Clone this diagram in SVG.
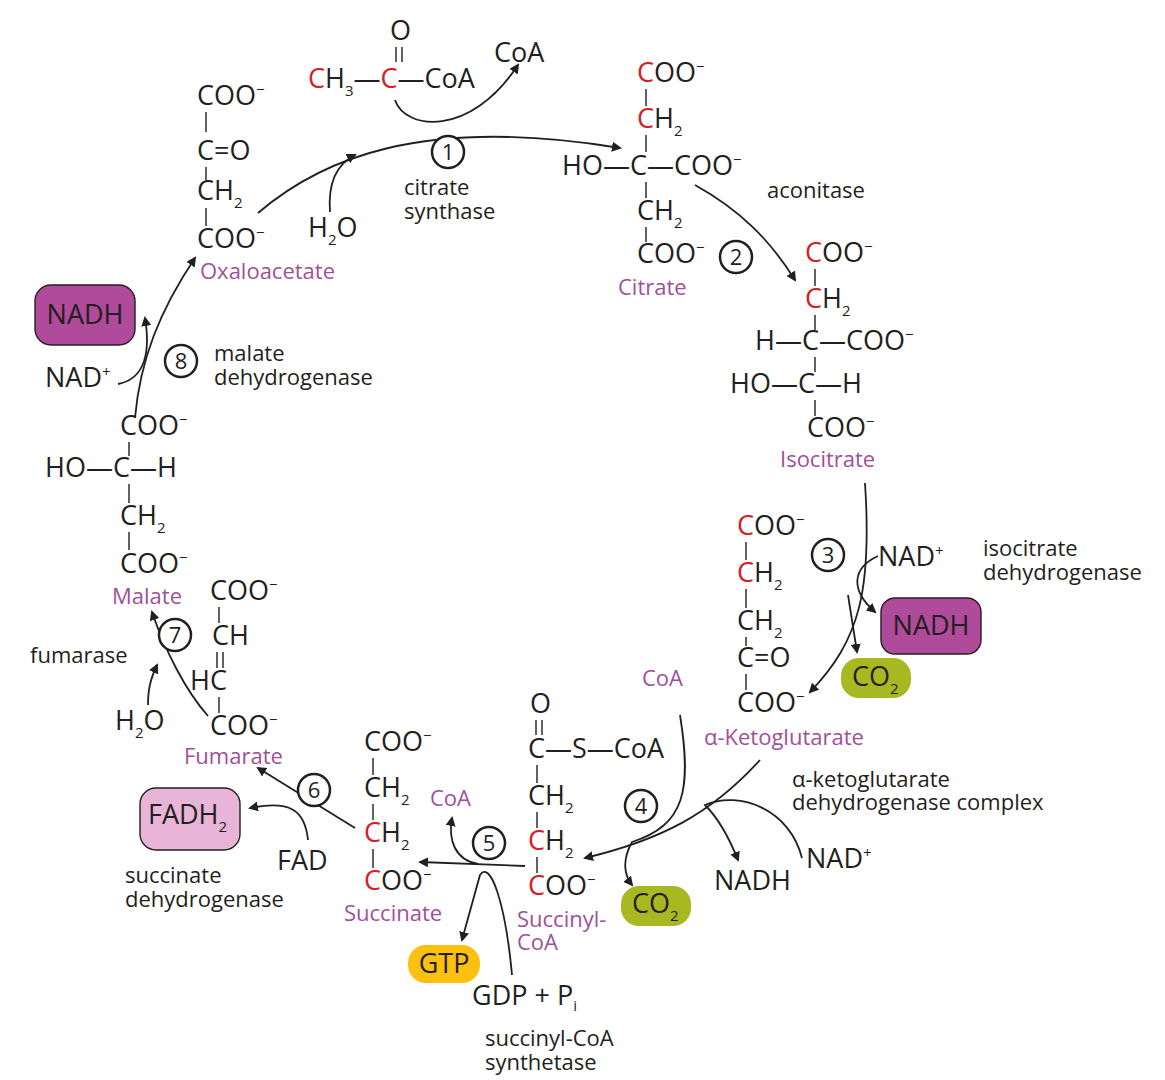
<svg xmlns="http://www.w3.org/2000/svg" width="1165" height="1080" viewBox="0 0 1165 1080">
<style>
text{font-family:"Open Sans","DejaVu Sans",sans-serif;fill:#231f20}
.m{font-size:27px}
.l{font-size:22px}
.p{font-size:22px;fill:#a0509a}
.r{fill:#d42027}
.s{font-size:15px}
.b{stroke:#231f20;stroke-width:1.4;fill:none}
.a{stroke:#231f20;stroke-width:1.8;fill:none;marker-end:url(#ah)}
.c{fill:#fff;stroke:#231f20;stroke-width:2.5}
</style>
<defs><marker id="ah" markerWidth="10" markerHeight="10" refX="8" refY="5" orient="auto" markerUnits="userSpaceOnUse" viewBox="0 0 10 10"><path d="M0,0L10,5L0,10z" fill="#231f20"/></marker></defs>
<g id="connectors">
<path class="a" d="M258,213 C320,160 420,115 620,148"/>
<path class="a" d="M395,100 C405,130 470,138 518,65"/>
<path class="a" d="M330,212 C328,185 335,165 355,155"/>
<path class="a" d="M695,185 C740,210 770,240 795,280"/>
<path class="a" d="M865,483 C872,590 860,640 810,692"/>
<path class="a" d="M878,556 C852,568 850,590 875,612"/>
<path class="a" d="M848,595 L857,652"/>
<path class="a" d="M760,760 C710,815 660,840 585,858"/>
<path class="a" d="M680,715 C692,790 685,825 632,842 C622,860 624,875 632,885"/>
<path class="a" d="M802,858 C790,810 740,790 705,805 C720,820 730,840 738,860"/>
<path class="a" d="M525,866 L420,862"/>
<path class="a" d="M478,864 C455,860 448,840 452,818"/>
<path class="a" d="M512,975 C505,900 490,860 480,875 L462,940"/>
<path class="a" d="M355,828 L258,768"/>
<path class="a" d="M308,840 C305,810 290,800 250,808"/>
<path class="a" d="M208,716 C185,690 165,650 152,612"/>
<path class="a" d="M148,705 C148,690 150,680 157,665"/>
<path class="a" d="M135,418 C140,360 160,310 195,258"/>
<path class="a" d="M118,384 C140,380 152,360 145,318"/>
</g>
<g id="oxaloacetate">
<text class="m" x="197" y="105">COO<tspan class="s" dy="-10">−</tspan></text>
<text class="m" x="197" y="160">C=O</text>
<text class="m" x="197" y="200">CH<tspan class="s" dy="8">2</tspan></text>
<text class="m" x="197" y="248">COO<tspan class="s" dy="-10">−</tspan></text>
<path class="b" d="M206,112V132M206,167V180M206,208V226"/>
<text class="p" x="200" y="279">Oxaloacetate</text>
</g>
<g id="acetylcoa">
<text class="m" x="390" y="40">O</text>
<path class="b" d="M396,47V62M402,47V62"/>
<text class="m" x="308" y="88"><tspan class="r">C</tspan>H<tspan class="s" dy="8">3</tspan><tspan dy="-8">—</tspan><tspan class="r">C</tspan>—CoA</text>
<text class="m" x="494" y="62">CoA</text>
<text class="m" x="308" y="237">H<tspan class="s" dy="8">2</tspan><tspan dy="-8">O</tspan></text>
</g>
<g id="step1"><circle class="c" cx="448" cy="152" r="16"/><text class="l" x="448" y="160" text-anchor="middle">1</text>
<text class="l" x="404" y="195">citrate</text><text class="l" x="404" y="219">synthase</text></g>
<g id="citrate">
<text class="m" x="637" y="82"><tspan class="r">C</tspan>OO<tspan class="s" dy="-10">−</tspan></text>
<text class="m" x="637" y="128"><tspan class="r">C</tspan>H<tspan class="s" dy="8">2</tspan></text>
<text class="m" x="562" y="175">HO—C—COO<tspan class="s" dy="-10">−</tspan></text>
<text class="m" x="637" y="220">CH<tspan class="s" dy="8">2</tspan></text>
<text class="m" x="637" y="263">COO<tspan class="s" dy="-10">−</tspan></text>
<path class="b" d="M646,89V106M646,135V152M646,182V198M646,227V242"/>
<text class="p" x="618" y="295">Citrate</text>
</g>
<g id="step2"><circle class="c" cx="736" cy="257" r="16"/><text class="l" x="736" y="265" text-anchor="middle">2</text>
<text class="l" x="767" y="198">aconitase</text></g>
<g id="isocitrate">
<text class="m" x="805" y="262"><tspan class="r">C</tspan>OO<tspan class="s" dy="-10">−</tspan></text>
<text class="m" x="805" y="308"><tspan class="r">C</tspan>H<tspan class="s" dy="8">2</tspan></text>
<text class="m" x="755" y="350">H—C—COO<tspan class="s" dy="-10">−</tspan></text>
<text class="m" x="730" y="393">HO—C—H</text>
<text class="m" x="807" y="437">COO<tspan class="s" dy="-10">−</tspan></text>
<path class="b" d="M815,269V286M815,315V330M815,357V372M815,400V416"/>
<text class="p" x="780" y="467">Isocitrate</text>
</g>
<g id="step3"><circle class="c" cx="828" cy="555" r="16"/><text class="l" x="828" y="563" text-anchor="middle">3</text>
<text class="m" x="878" y="566">NAD<tspan class="s" dy="-10">+</tspan></text>
<text class="l" x="983" y="556">isocitrate</text><text class="l" x="983" y="580">dehydrogenase</text>
<rect x="881" y="598" width="100" height="56" rx="14" fill="#b04a9a" stroke="#231f20" stroke-width="1.4"/>
<text class="m" x="931" y="635" text-anchor="middle">NADH</text>
<rect x="841" y="658" width="70" height="40" rx="18" fill="#a8b820"/>
<text class="m" x="852" y="686">CO<tspan class="s" dy="8">2</tspan></text></g>
<g id="ketoglutarate">
<text class="m" x="737" y="535"><tspan class="r">C</tspan>OO<tspan class="s" dy="-10">−</tspan></text>
<text class="m" x="737" y="582"><tspan class="r">C</tspan>H<tspan class="s" dy="8">2</tspan></text>
<text class="m" x="737" y="630">CH<tspan class="s" dy="8">2</tspan></text>
<text class="m" x="737" y="667">C=O</text>
<text class="m" x="737" y="712">COO<tspan class="s" dy="-10">−</tspan></text>
<path class="b" d="M746,542V560M746,589V608M746,637V646M746,674V690"/>
<text class="p" x="704" y="745">α-Ketoglutarate</text>
<text class="p" x="642" y="686">CoA</text>
</g>
<g id="step4"><circle class="c" cx="641" cy="806" r="16"/><text class="l" x="641" y="814" text-anchor="middle">4</text>
<text class="l" x="792" y="787">α-ketoglutarate</text><text class="l" x="792" y="810">dehydrogenase complex</text>
<text class="m" x="806" y="868">NAD<tspan class="s" dy="-10">+</tspan></text>
<text class="m" x="714" y="890">NADH</text>
<rect x="621" y="886" width="70" height="40" rx="18" fill="#a8b820"/>
<text class="m" x="632" y="913">CO<tspan class="s" dy="8">2</tspan></text></g>
<g id="succinylcoa">
<text class="m" x="530" y="713">O</text>
<path class="b" d="M536,720V735M542,720V735"/>
<text class="m" x="528" y="758">C—S—CoA</text>
<text class="m" x="528" y="805"><tspan>CH</tspan><tspan class="s" dy="8">2</tspan></text>
<text class="m" x="528" y="850"><tspan class="r">C</tspan>H<tspan class="s" dy="8">2</tspan></text>
<text class="m" x="528" y="895"><tspan class="r">C</tspan>OO<tspan class="s" dy="-10">−</tspan></text>
<path class="b" d="M537,765V783M537,812V828M537,857V873"/>
<text class="p" x="517" y="927">Succinyl-</text><text class="p" x="517" y="950">CoA</text>
</g>
<g id="step5"><circle class="c" cx="489" cy="843" r="16"/><text class="l" x="489" y="851" text-anchor="middle">5</text>
<text class="p" x="430" y="806">CoA</text>
<rect x="408" y="945" width="72" height="38" rx="18" fill="#fcc010"/>
<text class="m" x="444" y="973" text-anchor="middle">GTP</text>
<text class="m" x="472" y="1005">GDP + P<tspan class="s" dy="6">i</tspan></text>
<text class="l" x="485" y="1046">succinyl-CoA</text><text class="l" x="485" y="1070">synthetase</text></g>
<g id="succinate">
<text class="m" x="364" y="751">COO<tspan class="s" dy="-10">−</tspan></text>
<text class="m" x="364" y="797">CH<tspan class="s" dy="8">2</tspan></text>
<text class="m" x="364" y="842"><tspan class="r">C</tspan>H<tspan class="s" dy="8">2</tspan></text>
<text class="m" x="364" y="890"><tspan class="r">C</tspan>OO<tspan class="s" dy="-10">−</tspan></text>
<path class="b" d="M373,758V775M373,804V820M373,849V868"/>
<text class="p" x="344" y="921">Succinate</text>
</g>
<g id="step6"><circle class="c" cx="314" cy="790" r="16"/><text class="l" x="314" y="798" text-anchor="middle">6</text>
<text class="m" x="277" y="870">FAD</text>
<rect x="140" y="788" width="100" height="62" rx="16" fill="#e8b4d8" stroke="#231f20" stroke-width="1.4"/>
<text class="m" x="148" y="824">FADH<tspan class="s" dy="8">2</tspan></text>
<text class="l" x="125" y="883">succinate</text><text class="l" x="125" y="907">dehydrogenase</text></g>
<g id="fumarate">
<text class="m" x="210" y="600">COO<tspan class="s" dy="-10">−</tspan></text>
<text class="m" x="212" y="645">CH</text>
<path class="b" d="M217,652V668M223,652V668"/>
<text class="m" x="190" y="690">HC</text>
<text class="m" x="210" y="735">COO<tspan class="s" dy="-10">−</tspan></text>
<path class="b" d="M219,607V623M219,697V713"/>
<text class="p" x="184" y="764">Fumarate</text>
</g>
<g id="step7"><circle class="c" cx="175" cy="635" r="16"/><text class="l" x="175" y="643" text-anchor="middle">7</text>
<text class="l" x="30" y="663">fumarase</text>
<text class="m" x="115" y="730">H<tspan class="s" dy="8">2</tspan><tspan dy="-8">O</tspan></text></g>
<g id="malate">
<text class="m" x="120" y="435">COO<tspan class="s" dy="-10">−</tspan></text>
<text class="m" x="45" y="477">HO—C—H</text>
<text class="m" x="120" y="525">CH<tspan class="s" dy="8">2</tspan></text>
<text class="m" x="120" y="573">COO<tspan class="s" dy="-10">−</tspan></text>
<path class="b" d="M129,442V456M129,484V503M129,532V550"/>
<text class="p" x="112" y="604">Malate</text>
</g>
<g id="step8"><circle class="c" cx="181" cy="361" r="16"/><text class="l" x="181" y="369" text-anchor="middle">8</text>
<text class="l" x="214" y="361">malate</text><text class="l" x="214" y="385">dehydrogenase</text>
<text class="m" x="45" y="387">NAD<tspan class="s" dy="-10">+</tspan></text>
<rect x="35" y="285" width="100" height="60" rx="16" fill="#b04a9a" stroke="#231f20" stroke-width="1.4"/>
<text class="m" x="85" y="324" text-anchor="middle">NADH</text></g>
</svg>
